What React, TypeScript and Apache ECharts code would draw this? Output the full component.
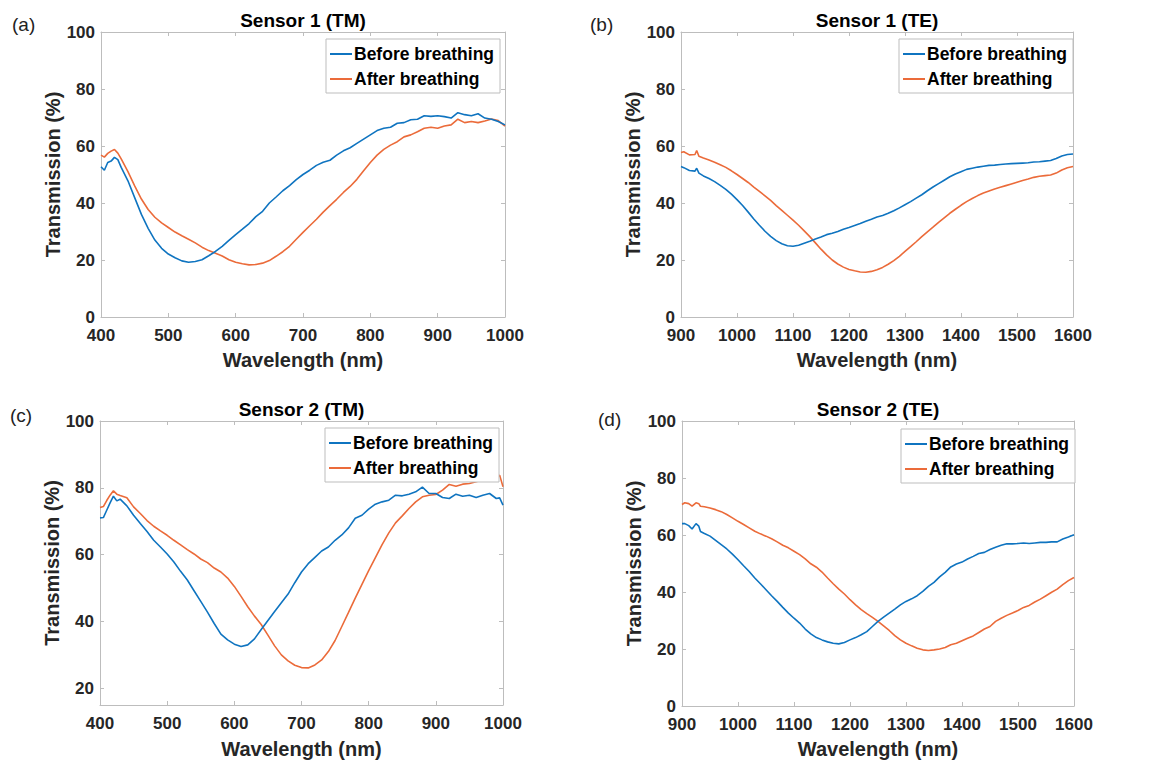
import React, { useEffect, useRef } from "react";
import * as echarts from "echarts";

const FONT = "Arial, 'Liberation Sans', Helvetica, sans-serif";
const BLUE = "#0F74C0";
const ORANGE = "#EB6B3A";
const FRAME = "#bdbdbd";
const TEXT = "#262626";

const SERIES_NAMES = ["Before breathing", "After breathing"];
const PANEL_TITLES = ["Sensor 1 (TM)", "Sensor 1 (TE)", "Sensor 2 (TM)", "Sensor 2 (TE)"];
const PANEL_LABELS = ["(a)", "(b)", "(c)", "(d)"];
const X_NAME = "Wavelength (nm)";
const Y_NAME = "Transmission (%)";

// ---- Panel (a): Sensor 1 (TM)
const wlA = [400, 405, 410, 415, 420, 425, 430, 440, 450, 460, 470, 480, 490, 500, 510, 520, 530, 540, 550, 560, 570, 580, 590, 600, 610, 620, 630, 640, 650, 660, 670, 680, 690, 700, 710, 720, 730, 740, 750, 760, 770, 780, 790, 800, 810, 820, 830, 840, 850, 860, 870, 880, 890, 900, 910, 920, 930, 940, 950, 960, 970, 980, 990, 1000];
const aBefore = [52.7, 51.5, 54.2, 54.7, 56, 55.2, 52.5, 47.8, 41.9, 36, 31.1, 27, 24.1, 22.1, 20.8, 19.7, 19.2, 19.5, 20.1, 21.5, 23, 24.8, 26.9, 28.9, 30.8, 32.8, 35.2, 37.1, 40, 42.1, 44.3, 46.1, 48.2, 50, 51.5, 53.2, 54.3, 55, 56.8, 58.3, 59.4, 60.9, 62.4, 63.9, 65.4, 66.2, 66.6, 68, 68.2, 69.2, 69.4, 70.6, 70.4, 70.6, 70.3, 69.8, 71.7, 71, 70.6, 71.3, 69.8, 69.4, 68.6, 67.4];
const aAfter = [56.8, 56.1, 57.4, 58.2, 58.8, 57.5, 55.5, 51, 46, 41.4, 37.7, 35, 33, 31.4, 29.8, 28.5, 27.3, 26, 24.5, 23.3, 22.4, 21.4, 20.1, 19.2, 18.7, 18.3, 18.4, 18.9, 19.8, 21.3, 22.9, 24.8, 27.3, 29.7, 32, 34.3, 36.8, 39.1, 41.3, 43.7, 45.8, 48.3, 51.3, 54.2, 56.8, 58.8, 60.3, 61.5, 63.2, 63.9, 65, 66.2, 66.6, 66.2, 67, 67.4, 69.4, 68.2, 68.6, 68.2, 68.8, 69.5, 68.9, 67];

// ---- Panel (b): Sensor 1 (TE)
const wlB = [900, 905, 915, 925, 928, 932, 940, 950, 960, 970, 980, 990, 1000, 1010, 1020, 1030, 1040, 1050, 1060, 1070, 1080, 1090, 1100, 1110, 1120, 1130, 1140, 1150, 1160, 1170, 1180, 1190, 1200, 1210, 1220, 1230, 1240, 1250, 1260, 1270, 1280, 1290, 1300, 1310, 1320, 1330, 1340, 1350, 1360, 1370, 1380, 1390, 1400, 1410, 1420, 1430, 1440, 1450, 1460, 1470, 1480, 1490, 1500, 1510, 1520, 1530, 1540, 1550, 1560, 1570, 1580, 1590, 1600];
const bBefore = [52.8, 52.4, 51.4, 51.2, 52.2, 50.5, 49.5, 48.6, 47.5, 46.2, 44.8, 43.1, 41.2, 39.1, 36.8, 34.4, 32.2, 30.1, 28.3, 26.8, 25.7, 25, 24.8, 25.2, 25.9, 26.6, 27.4, 28.1, 28.9, 29.4, 30, 30.8, 31.4, 32.1, 32.8, 33.6, 34.3, 35.1, 35.6, 36.4, 37.3, 38.3, 39.4, 40.5, 41.7, 42.9, 44.3, 45.6, 46.8, 48, 49.2, 50.2, 51, 51.8, 52.2, 52.6, 52.9, 53.2, 53.3, 53.5, 53.7, 53.8, 53.9, 54, 54.1, 54.4, 54.5, 54.7, 54.9, 55.6, 56.5, 57, 57.2];
const bAfter = [57.7, 58, 56.9, 57, 58.4, 56.4, 55.8, 55.1, 54.3, 53.4, 52.5, 51.3, 50, 48.6, 47.2, 45.6, 44.1, 42.5, 40.9, 39.1, 37.4, 35.7, 34, 32.2, 30.2, 28.2, 26, 23.8, 21.8, 20, 18.6, 17.5, 16.7, 16.2, 15.8, 15.7, 16, 16.6, 17.4, 18.5, 19.8, 21.3, 23, 24.7, 26.4, 28.2, 29.9, 31.5, 33.2, 34.8, 36.4, 37.8, 39.2, 40.5, 41.6, 42.6, 43.5, 44.2, 44.9, 45.5, 46.1, 46.7, 47.3, 47.9, 48.4, 49, 49.4, 49.6, 49.8, 50.5, 51.6, 52.4, 52.8];

// ---- Panel (c): Sensor 2 (TM)
const wlC = [400, 405, 410, 415, 420, 425, 430, 440, 450, 460, 470, 480, 490, 500, 510, 520, 530, 540, 550, 560, 570, 580, 590, 600, 610, 620, 630, 640, 650, 660, 670, 680, 690, 700, 710, 720, 730, 740, 750, 760, 770, 780, 790, 800, 810, 820, 830, 840, 850, 860, 870, 880, 890, 900, 910, 920, 930, 940, 950, 960, 970, 980, 990, 995, 1000];
const cBefore = [71, 71.1, 73.3, 75.5, 77.5, 76.1, 76.6, 74.6, 71.8, 69.3, 66.9, 64.3, 62.3, 60.2, 57.8, 55, 52.4, 49.2, 46, 42.8, 39.4, 36.2, 34.5, 33.2, 32.5, 33, 34.8, 37.6, 40.3, 43, 45.6, 48.2, 51.6, 54.8, 57.3, 59.2, 61.1, 62.3, 64.3, 65.9, 68, 70.9, 71.8, 73.6, 75.1, 75.8, 76.3, 77.8, 77.6, 78.1, 78.8, 80.2, 78.3, 78.3, 77.1, 76.8, 78.1, 77.5, 77.8, 77.1, 77.8, 78.3, 76.8, 77, 74.8];
const cAfter = [74.1, 74.4, 76.2, 77.8, 79.1, 78.1, 77.7, 77, 74.3, 72.3, 70.2, 68.5, 67.1, 65.8, 64.3, 62.9, 61.5, 60.2, 58.7, 57.6, 56, 54.8, 53, 50.5, 47.5, 44.4, 41.6, 39.1, 35.9, 32.7, 30, 28.2, 26.9, 26.2, 26.1, 27, 28.5, 31, 34.3, 38.5, 42.7, 47, 51.1, 55.2, 59.1, 63, 66.5, 69.5, 71.6, 73.8, 75.8, 77.3, 77.8, 78, 79.3, 81, 80.5, 81.1, 81.3, 81.8, 82.4, 82.5, 82.8, 83.8, 80.3];

// ---- Panel (d): Sensor 2 (TE)
const wlD = [900, 905, 912, 918, 925, 930, 933, 940, 950, 960, 970, 980, 990, 1000, 1010, 1020, 1030, 1040, 1050, 1060, 1070, 1080, 1090, 1100, 1110, 1120, 1130, 1140, 1150, 1160, 1170, 1180, 1190, 1200, 1210, 1220, 1230, 1240, 1250, 1260, 1270, 1280, 1290, 1300, 1310, 1320, 1330, 1340, 1350, 1360, 1370, 1380, 1390, 1400, 1410, 1420, 1430, 1440, 1450, 1460, 1470, 1480, 1490, 1500, 1510, 1520, 1530, 1540, 1550, 1560, 1570, 1580, 1590, 1600];
const dBefore = [64, 64, 63.3, 62.1, 64, 63.1, 61.2, 60.5, 59.6, 58.1, 56.6, 55.1, 53.3, 51.3, 49.2, 47.2, 44.9, 42.9, 40.8, 38.7, 36.7, 34.6, 32.6, 30.8, 29.1, 27, 25.3, 24, 23.2, 22.5, 22, 21.8, 22.3, 23.2, 24, 25, 26.1, 27.9, 29.7, 31.2, 32.6, 34, 35.5, 36.7, 37.6, 38.7, 40.2, 42, 43.4, 45.3, 46.9, 48.8, 49.8, 50.5, 51.6, 52.5, 53.5, 53.9, 54.9, 55.7, 56.4, 56.9, 56.9, 57, 57.2, 57, 57.2, 57.4, 57.4, 57.6, 57.6, 58.6, 59.3, 60.1];
const dAfter = [70.7, 71.3, 71, 70.1, 71.3, 71, 70.1, 69.9, 69.5, 68.9, 68.2, 67.2, 66, 64.8, 63.7, 62.5, 61.3, 60.4, 59.6, 58.7, 57.6, 56.4, 55.5, 54.3, 53.1, 51.6, 49.9, 48.7, 47, 44.9, 42.9, 41, 39.3, 37.3, 35.5, 33.8, 32.4, 31.1, 29.7, 28.1, 26.5, 24.7, 23.2, 22, 21.1, 20.3, 19.7, 19.5, 19.7, 20, 20.5, 21.5, 22, 22.9, 23.8, 24.6, 25.8, 27, 27.9, 29.7, 30.8, 31.8, 32.6, 33.5, 34.6, 35.3, 36.5, 37.5, 38.7, 39.9, 41, 42.6, 44, 45.1];

const DATA = [
  { wl: wlA, before: aBefore, after: aAfter, xMin: 400, xMax: 1000, yMin: 0 },
  { wl: wlB, before: bBefore, after: bAfter, xMin: 900, xMax: 1600, yMin: 0 },
  { wl: wlC, before: cBefore, after: cAfter, xMin: 400, xMax: 1000, yMin: 15 },
  { wl: wlD, before: dBefore, after: dAfter, xMin: 900, xMax: 1600, yMin: 0 },
];

// layout (pixels)
const LAYOUT = [
  { grid: { left: 101, top: 32, width: 404, height: 285 }, legend: { left: 326, top: 39 }, label: [12, 24], yGap: 33, xGap: 33 },
  { grid: { left: 681, top: 32, width: 392, height: 285 }, legend: { left: 899, top: 39 }, label: [590, 24], yGap: 34, xGap: 33 },
  { grid: { left: 100, top: 421, width: 403, height: 284 }, legend: { left: 325, top: 428 }, label: [10, 415], yGap: 35, xGap: 34 },
  { grid: { left: 682, top: 421, width: 392, height: 285 }, legend: { left: 901, top: 429 }, label: [598, 419], yGap: 34, xGap: 33 },
];

function buildOption() {
  const grid: any[] = [];
  const xAxis: any[] = [];
  const yAxis: any[] = [];
  const series: any[] = [];
  const legend: any[] = [];
  const graphic: any[] = [];

  const line = { show: true, onZero: false, lineStyle: { color: FRAME, width: 1 } };
  const tick = { show: true, inside: true, length: 4, lineStyle: { color: FRAME, width: 1 } };
  const lbl = { color: TEXT, fontSize: 17, fontWeight: "bold", fontFamily: FONT };
  const nameStyle = { color: TEXT, fontSize: 20, fontWeight: "bold", fontFamily: FONT };

  DATA.forEach((d, i) => {
    const L = LAYOUT[i];
    grid.push({ ...L.grid, containLabel: false });
    const xCommon = { type: "value", gridIndex: i, min: d.xMin, max: d.xMax, interval: 100, splitLine: { show: false }, axisLine: line, axisTick: tick };
    xAxis.push({ ...xCommon, position: "bottom", axisLabel: { ...lbl, margin: 10, showMinLabel: true, showMaxLabel: true, formatter: (v: number) => String(v) }, name: X_NAME, nameLocation: "middle", nameGap: L.xGap, nameTextStyle: nameStyle });
    xAxis.push({ ...xCommon, position: "top", axisLabel: { show: false } });
    const yCommon: any = { type: "value", gridIndex: i, min: d.yMin, max: 100, splitLine: { show: false }, axisLine: line, axisTick: tick };
    if (d.yMin === 0) yCommon.interval = 20; else yCommon.splitNumber = 5;
    yAxis.push({ ...yCommon, position: "left", axisLabel: { ...lbl, margin: 6, showMinLabel: d.yMin === 0, formatter: (v: number) => (v % 20 === 0 ? String(v) : "") }, name: Y_NAME, nameLocation: "middle", nameGap: L.yGap, nameRotate: 90, nameTextStyle: nameStyle });
    yAxis.push({ ...yCommon, position: "right", axisLabel: { show: false } });

    series.push({ type: "line", name: SERIES_NAMES[0], xAxisIndex: 2 * i, yAxisIndex: 2 * i, symbol: "none", data: d.wl.map((x, k) => [x, d.before[k]]), lineStyle: { color: BLUE, width: 1.6 }, itemStyle: { color: BLUE }, z: 3 });
    series.push({ type: "line", name: SERIES_NAMES[1], xAxisIndex: 2 * i, yAxisIndex: 2 * i, symbol: "none", data: d.wl.map((x, k) => [x, d.after[k]]), lineStyle: { color: ORANGE, width: 1.6 }, itemStyle: { color: ORANGE }, z: 2 });

    legend.push({
      data: SERIES_NAMES, orient: "vertical", left: L.legend.left, top: L.legend.top,
      icon: "rect", itemWidth: 22, itemHeight: 2, itemGap: 7, padding: [6, 6, 5, 4],
      borderColor: FRAME, borderWidth: 1, backgroundColor: "#ffffff", selectedMode: false,
      textStyle: { fontSize: 17.5, fontWeight: "bold", color: "#000", fontFamily: FONT, padding: [0, 0, 0, -3] },
    });

    const cx = L.grid.left + L.grid.width / 2;
    graphic.push({ type: "text", x: cx, y: L.grid.top - 12, style: { text: PANEL_TITLES[i], fill: "#000", font: `bold 19px ${FONT}`, align: "center", verticalAlign: "middle" } });
    graphic.push({ type: "text", x: L.label[0], y: L.label[1], style: { text: PANEL_LABELS[i], fill: "#222", font: `19px ${FONT}`, align: "left", verticalAlign: "middle" } });
  });

  return { animation: false, backgroundColor: "#ffffff", grid, xAxis, yAxis, series, legend, graphic };
}

export default function App() {
  const ref = useRef<HTMLDivElement>(null);
  useEffect(() => {
    document.body.style.margin = "0";
    if (!ref.current) return;
    const chart = echarts.init(ref.current, undefined, { renderer: "svg" });
    chart.setOption(buildOption() as any);
    return () => chart.dispose();
  }, []);
  return <div ref={ref} style={{ width: 1150, height: 761 }} />;
}
